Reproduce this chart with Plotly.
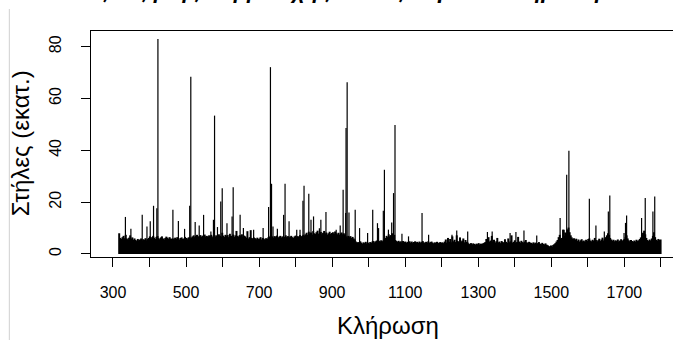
import plotly.graph_objects as go

# Typical participation per draw (millions of columns), sampled every 3rd draw from 317
typical_values = [
    # 317-359
    8.0, 6.2, 5.8, 6.5, 7.0, 6.1, 7.4, 6.0, 5.6, 6.3, 7.2, 5.9, 6.4, 5.5, 6.0,
    # 362-395
    5.4, 5.0, 5.8, 5.3, 5.6, 6.0, 5.2, 5.7, 5.5, 6.1, 5.3, 5.8,
    # 398-461
    6.2, 6.8, 5.9, 6.5, 7.0, 6.3, 5.8, 6.6, 6.9, 6.1, 5.7, 6.4, 6.8, 6.0, 5.6, 6.2, 6.7, 6.3, 5.9, 6.5, 6.0, 5.8,
    # 464-515
    6.0, 5.7, 6.3, 5.9, 6.5, 6.1, 5.6, 6.2, 6.4, 5.8, 6.0, 6.6, 6.2, 5.7, 6.3, 6.5, 6.0, 6.4,
    # 518-578
    6.8, 7.2, 6.5, 7.0, 7.4, 6.6, 6.9, 7.3, 6.7, 7.1, 6.4, 7.5, 6.8, 7.0, 6.6, 7.2, 6.9, 7.4, 6.5, 7.0, 7.3,
    # 581-662
    6.8, 7.2, 6.5, 7.6, 7.0, 6.7, 8.2, 7.1, 6.6, 7.4, 6.9, 7.3, 6.5, 7.8, 7.0, 6.8, 7.5, 6.6, 7.2, 8.9,
    7.0, 6.7, 7.3, 6.9, 7.6, 6.5, 7.1, 6.8,
    # 665-725
    6.3, 8.8, 6.0, 6.5, 9.2, 6.2, 5.9, 6.4, 6.1, 5.7, 6.3, 5.8, 6.0, 6.5, 5.6, 6.2, 5.9, 5.5, 6.1, 5.8, 6.4,
    # 728-824
    6.6, 7.0, 6.4, 6.8, 6.2, 6.9, 6.5, 7.1, 6.3, 6.7, 7.0, 6.4, 6.8, 6.1, 6.6, 7.2, 6.5, 6.9, 6.3, 6.7,
    7.0, 6.5, 6.2, 6.8, 7.1, 6.4, 6.9, 6.6, 7.3, 6.8, 7.0, 7.4, 7.1,
    # 827-935
    7.6, 8.2, 7.4, 8.6, 7.9, 8.3, 7.5, 8.8, 8.0, 7.7, 8.4, 9.0, 7.8, 8.1, 8.5, 7.6, 8.2, 8.9, 7.9, 8.3,
    7.5, 8.0, 8.6, 7.7, 8.1, 8.4, 7.8, 8.7, 8.0, 7.6, 8.2, 7.4, 7.9, 8.3, 7.6, 8.0, 7.5,
    # 938-962
    6.8, 6.4, 7.0, 6.5, 6.9, 6.2, 6.6, 6.0, 5.6,
    # 965-1043
    4.8, 4.3, 4.6, 4.1, 4.9, 4.4, 4.0, 4.5, 4.2, 4.7, 4.1, 4.4, 4.0, 4.6, 4.3, 4.8, 5.0, 4.5, 4.9, 5.2,
    4.7, 5.1, 4.8, 5.3, 4.9, 5.2, 5.6,
    # 1046-1070
    6.2, 7.0, 6.5, 7.6, 6.8, 7.3, 8.0, 6.9, 7.4,
    # 1073-1199
    5.4, 5.0, 4.7, 5.1, 4.6, 4.9, 4.4, 5.0, 4.6, 4.8, 4.3, 4.7, 4.5, 4.9, 4.4, 4.8, 4.2, 4.6, 4.9, 4.5,
    4.7, 4.3, 4.8, 4.4, 4.6, 5.0, 4.5, 4.2, 4.7, 4.4, 4.9, 4.3, 4.6, 4.8, 4.4, 4.1, 4.5, 4.3, 4.7, 4.2,
    4.4, 4.6, 4.3,
    # 1202-1271
    4.5, 4.2, 4.8, 5.6, 4.4, 6.2, 4.7, 5.8, 4.5, 6.8, 4.9, 5.5, 4.6, 7.2, 5.0, 4.6, 6.4, 4.8, 5.2, 6.0,
    4.5, 5.4, 4.7, 4.4,
    # 1274-1316
    4.0, 3.8, 4.2, 3.7, 4.1, 3.9, 3.6, 4.0, 3.8, 4.2, 3.7, 4.0, 3.9, 4.1, 4.3,
    # 1319-1442
    4.6, 5.8, 4.4, 6.5, 4.8, 5.2, 7.0, 4.6, 5.5, 4.3, 4.9, 6.2, 4.5, 4.8, 4.2, 5.0, 4.6, 4.4, 5.7, 4.7,
    4.3, 6.0, 4.5, 4.9, 7.2, 4.4, 4.7, 5.3, 4.2, 4.6, 6.6, 4.8, 4.4, 5.1, 4.6, 4.3, 4.8, 5.4, 4.5, 4.2,
    4.7, 4.4,
    # 1445-1490
    4.3, 4.0, 4.5, 4.1, 4.4, 3.9, 4.2, 4.6, 4.0, 3.8, 4.3, 3.9, 3.7, 4.1, 3.6, 3.4,
    # 1493-1508
    3.1, 2.8, 3.3, 2.9, 3.5, 3.8,
    # 1511-1799
    4.2, 4.8, 5.4, 6.5, 7.4, 5.8, 6.2, 9.4, 7.0, 8.3,
    8.0, 9.5, 10.2, 8.4, 7.2, 6.4, 5.8, 6.1,
    5.4, 5.9, 5.0, 5.6, 4.8, 5.3, 5.7, 4.9, 5.2, 4.7, 5.5, 5.0, 5.8,
    6.0, 5.2, 4.9, 5.5, 5.1, 6.2, 5.4, 4.8, 5.3, 5.9, 5.0, 5.6, 6.3, 5.2, 5.8, 6.5, 7.2,
    8.0, 7.4, 6.2, 5.6, 5.1, 5.5, 4.9, 5.3, 5.0, 5.6, 4.8, 5.2, 5.7, 5.0, 5.4,
    5.8, 6.5, 7.2, 6.0, 5.3, 4.9, 5.4, 5.0, 4.7, 5.2, 4.8, 5.5, 5.0, 5.3, 5.8, 6.4, 7.5,
    8.2, 9.0, 7.6, 6.2, 5.4, 5.0, 5.6, 5.2, 6.0, 7.0, 8.4, 6.5, 5.5, 5.2, 5.8, 5.4, 5.6,
]
first_draw = 317
draw_step = 3
typical_draws = [first_draw + draw_step * i for i in range(len(typical_values))]

# Peak draws and their participation
peak_draws = [334, 349, 380, 393, 402, 411, 420, 423, 464, 479,
              496, 510, 513, 525, 536, 548, 568, 575, 578, 586,
              595, 599, 612, 626, 629, 648, 657, 685, 711, 726,
              731, 734, 738, 750, 767, 771, 782, 803, 812, 820,
              823, 836, 842, 849, 865, 869, 883, 911, 922, 930,
              937, 938, 941, 946, 963, 975, 997, 1011, 1024, 1027,
              1040, 1043, 1054, 1063, 1068, 1072, 1091, 1109, 1146, 1164,
              1228, 1241, 1271, 1325, 1338, 1387, 1403, 1425, 1460, 1524,
              1535, 1542, 1548, 1604, 1622, 1645, 1656, 1660, 1699, 1703,
              1706, 1747, 1757, 1778, 1783]
peak_values = [14.3, 9.7, 15.1, 10.6, 12.6, 18.6, 17.7, 83.0, 17.1, 12.7,
               9.7, 18.6, 68.4, 12.3, 11.0, 15.1, 8.7, 13.2, 53.4, 10.4,
               20.3, 25.4, 11.9, 14.5, 25.8, 15.1, 10.0, 9.4, 10.0, 18.1,
               72.1, 27.1, 10.6, 9.7, 15.1, 27.1, 12.6, 9.4, 9.4, 20.5,
               26.3, 23.2, 13.2, 14.5, 9.9, 13.2, 16.2, 9.4, 11.0, 24.8,
               15.8, 48.6, 66.3, 16.0, 17.1, 10.0, 8.1, 17.1, 11.9, 10.0,
               16.7, 32.5, 9.4, 12.2, 23.5, 49.8, 7.8, 6.8, 15.8, 7.4,
               7.4, 9.1, 8.7, 8.5, 8.7, 8.1, 8.5, 9.1, 7.1, 13.9,
               9.4, 30.6, 39.8, 21.3, 11.0, 8.7, 16.4, 22.6, 8.1, 12.0,
               14.9, 13.9, 21.6, 16.4, 22.2]

x_tick_vals = list(range(300, 1801, 100))
x_tick_text = [str(v) if (v // 100) % 2 == 1 else "" for v in x_tick_vals]
y_tick_vals = [0, 20, 40, 60, 80]

title_text = "Εξέλιξη της συμμετοχής στο Τζόκερ ανά κλήρωση"
x_title = "Κλήρωση"
y_title = "Στήλες (εκατ.)"


def stems(xs, ys):
    X, Y = [], []
    for x, y in zip(xs, ys):
        X += [x, x, None]
        Y += [0, y, None]
    return X, Y


fig = go.Figure()
bx, by = stems(typical_draws, typical_values)
fig.add_trace(go.Scatter(x=bx, y=by, mode="lines", line=dict(color="black", width=2),
                         hoverinfo="skip", showlegend=False))
px_, py_ = stems(peak_draws, peak_values)
fig.add_trace(go.Scatter(x=px_, y=py_, mode="lines", line=dict(color="black", width=1.2),
                         hoverinfo="skip", showlegend=False))

FONT = "Liberation Sans, Arial, sans-serif"
L, T, B = 90.7, 31, 82.7
W, H = 673, 340
plot_h = H - T - B
plot_w = W - L

fig.update_layout(
    width=W, height=H,
    margin=dict(l=L, r=0, t=T, b=B, pad=0),
    paper_bgcolor="white", plot_bgcolor="white",
    font=dict(family=FONT, color="black", size=16),
    xaxis=dict(range=[239.8, 1833], tickvals=x_tick_vals, ticktext=x_tick_text,
               ticks="outside", ticklen=9, tickwidth=1, tickcolor="black",
               showline=True, linecolor="black", linewidth=1, mirror=True,
               showgrid=False, zeroline=False, ticklabelstandoff=12,
               tickfont=dict(family=FONT, size=16, color="black")),
    yaxis=dict(range=[-1.16, 86.05], tickvals=y_tick_vals,
               ticks="outside", ticklen=9, tickwidth=1, tickcolor="black",
               showline=True, linecolor="black", linewidth=1, mirror=True,
               showgrid=False, zeroline=False, tickangle=-90, ticklabelstandoff=14,
               tickfont=dict(family=FONT, size=16, color="black")),
    annotations=[
        dict(text=x_title, xref="paper", yref="paper",
             x=(388 - L) / plot_w, y=-(326 - (T + plot_h)) / plot_h,
             xanchor="center", yanchor="middle", showarrow=False,
             font=dict(family=FONT, size=24, color="black")),
        dict(text=y_title, xref="paper", yref="paper",
             x=-(L - 21) / plot_w, y=1 - (143 - T) / plot_h, textangle=-90,
             xanchor="center", yanchor="middle", showarrow=False,
             font=dict(family=FONT, size=24, color="black")),
        dict(text="<b><i>" + title_text + "</i></b>", xref="paper", yref="paper",
             x=(342 - L) / plot_w, y=1 + (T - 4.5) / plot_h,
             xanchor="center", yanchor="bottom", showarrow=False,
             font=dict(family=FONT, size=22, color="black")),
    ],
    shapes=[
        dict(type="line", xref="paper", yref="paper",
             x0=-(L - 9) / plot_w, x1=-(L - 9) / plot_w,
             y0=1 + (T - 9) / plot_h, y1=-(H - T - plot_h) / plot_h - 0.01,
             line=dict(color="#d0d0d0", width=1)),
    ],
)

fig.write_html("out.html")
